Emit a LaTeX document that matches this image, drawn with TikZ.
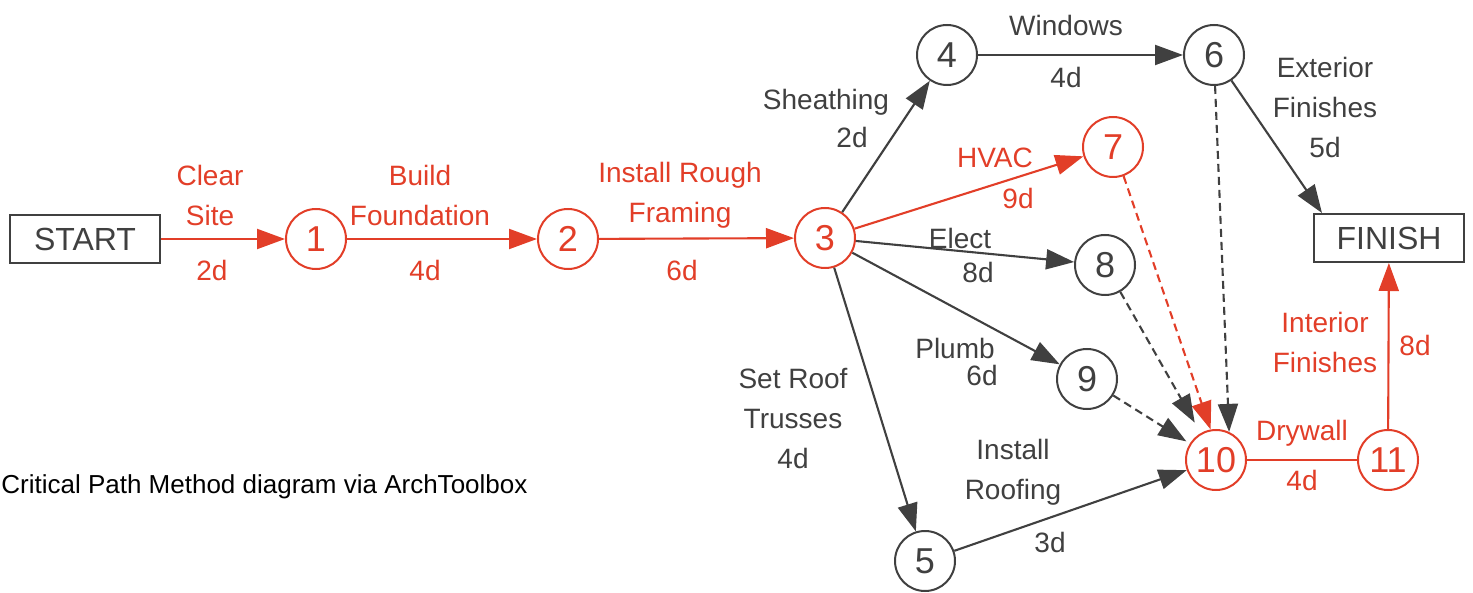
\documentclass[tikz,border=0pt]{standalone}
\usepackage{fontspec}
\setmainfont{Liberation Sans}
\usetikzlibrary{arrows.meta}
\definecolor{cpmRed}{RGB}{226,62,40}
\definecolor{cpmGray}{RGB}{64,64,64}
\tikzset{
  event/.style={circle, draw=cpmGray, line width=1pt, minimum size=30pt, inner sep=0pt, text=cpmGray, font=\fontsize{18}{18}\selectfont},
  critEvent/.style={event, draw=cpmRed, text=cpmRed},
  terminal/.style={rectangle, draw=cpmGray, line width=1pt, minimum width=75pt, minimum height=24pt, inner sep=0pt, text=cpmGray, font=\fontsize{16}{16}\selectfont},
  task/.style={color=cpmGray, line width=1.05pt, -{Triangle[length=14pt,width=10pt]}},
  critTask/.style={task, color=cpmRed},
  dummyOp/.style={task, dash pattern=on 4pt off 2.5pt},
  critDummyOp/.style={critTask, dash pattern=on 4pt off 2.5pt},
  lbl/.style={text=cpmGray, align=center, inner sep=0pt, font=\fontsize{14}{20}\selectfont},
  critLbl/.style={lbl, text=cpmRed}
}
\begin{document}
\begin{tikzpicture}[x=0.5pt, y=-0.5pt]
  \useasboundingbox (0,0) rectangle (1473,593);
  % events
  \node [terminal] (start) at (85,239) {START};
  \node [terminal] (finish) at (1389,238) {FINISH};
  \node [critEvent] (n1) at (316,239) {1};
  \node [critEvent] (n2) at (568,239) {2};
  \node [critEvent] (n3) at (825,238) {3};
  \node [event] (n4) at (947,55) {4};
  \node [event] (n5) at (925,561) {5};
  \node [event] (n6) at (1214,55) {6};
  \node [critEvent] (n7) at (1113,147) {7};
  \node [event] (n8) at (1105,265) {8};
  \node [event] (n9) at (1087,379) {9};
  \node [critEvent] (n10) at (1216,460) {10};
  \node [critEvent] (n11) at (1388,460) {11};
  % activities
  \draw [critTask] (start) -- (n1);
  \draw [critTask] (n1) -- (n2);
  \draw [critTask] (n2) -- (n3);
  \draw [critTask] (n3) -- (n7);
  \draw [task] (n3) -- (n4);
  \draw [task] (n3) -- (n8);
  \draw [task] (n3) -- (n9);
  \draw [task] (n3) -- (n5);
  \draw [task] (n4) -- (n6);
  \draw [task] (n6) -- ([xshift=4.5pt]finish.north west);
  \draw [task] (n5) -- (n10);
  \draw [critDummyOp] (n7.-70) -- (n10.100);
  \draw [dummyOp] (n6.-88) -- (n10.65);
  \draw [dummyOp, shorten >=6pt] (n8) -- (n10);
  \draw [dummyOp, shorten >=2pt] (n9) -- (n10);
  \draw [critTask, -] (n10) -- (n11);
  \draw [critTask] (n11) -- (finish);
  % labels
  \node [critLbl] (lClear) at (210,195) {Clear\\Site};
  \node [critLbl] (dClear) at (212,270) {2d};
  \node [critLbl] (lBuild) at (420,195) {Build\\Foundation};
  \node [critLbl] (dBuild) at (425,270) {4d};
  \node [critLbl] (lFrame) at (680,195) {Install Rough\\Framing};
  \node [critLbl] (dFrame) at (682,270) {6d};
  \node [lbl] (lSheath) at (826,102) {Sheathing};
  \node [lbl] (dSheath) at (852,137) {2d};
  \node [lbl] (lWin) at (1066,25) {Windows};
  \node [lbl] (dWin) at (1066,77) {4d};
  \node [critLbl] (lHvac) at (995,158) {HVAC};
  \node [critLbl] (dHvac) at (1018,198) {9d};
  \node [lbl] (lElect) at (960,238) {Elect};
  \node [lbl] (dElect) at (978,272) {8d};
  \node [lbl] (lPlumb) at (955,348) {Plumb};
  \node [lbl] (dPlumb) at (982,375) {6d};
  \node [lbl] (lTruss) at (793,419) {Set Roof\\Trusses\\4d};
  \node [lbl] (lRoof) at (1013,472) {Install\\Roofing};
  \node [lbl] (dRoof) at (1050,542) {3d};
  \node [lbl] (lExt) at (1325,107) {Exterior\\Finishes\\5d};
  \node [critLbl] (lInt) at (1325,342) {Interior\\Finishes};
  \node [critLbl] (dInt) at (1415,345) {8d};
  \node [critLbl] (lDry) at (1302,433) {Drywall};
  \node [critLbl] (dDry) at (1302,480) {4d};
  % caption
  \node [anchor=west, inner sep=0pt, font=\fontsize{13}{15}\selectfont] (caption) at (1,487) {Critical Path Method diagram via ArchToolbox};
\end{tikzpicture}
\end{document}
